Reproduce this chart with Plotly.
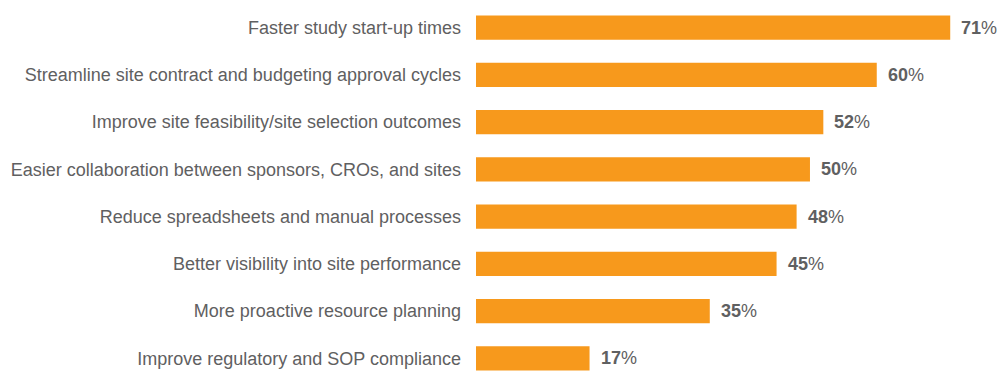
import plotly.graph_objects as go

categories = [
    "Faster study start-up times",
    "Streamline site contract and budgeting approval cycles",
    "Improve site feasibility/site selection outcomes",
    "Easier collaboration between sponsors, CROs, and sites",
    "Reduce spreadsheets and manual processes",
    "Better visibility into site performance",
    "More proactive resource planning",
    "Improve regulatory and SOP compliance",
]
values = [71, 60, 52, 50, 48, 45, 35, 17]

BAR = "#F7991C"
TXT = "#5f6061"
FONT = "Liberation Sans, Arial, sans-serif"

fig = go.Figure(go.Bar(
    x=values, y=categories, orientation="h",
    marker=dict(color=BAR, line=dict(width=0)),
    width=0.51, hoverinfo="skip",
))

for c, v in zip(categories, values):
    fig.add_annotation(
        x=v, y=c, xref="x", yref="y", xanchor="left", yanchor="middle",
        xshift=9, showarrow=False,
        text=f"<b>{v}</b>%", font=dict(family=FONT, size=18, color=TXT),
    )

fig.update_layout(
    width=1003, height=385,
    margin=dict(l=476, r=0, t=4, b=3),
    paper_bgcolor="white", plot_bgcolor="white",
    showlegend=False,
    font=dict(family=FONT, color=TXT),
    xaxis=dict(range=[0, 78.9], visible=False, fixedrange=True),
    yaxis=dict(autorange="reversed", showgrid=False, zeroline=False, showline=False,
               ticks="", ticklabelstandoff=14, fixedrange=True,
               tickfont=dict(family=FONT, size=18, color=TXT)),
)

fig.write_html("out.html", config={"displayModeBar": False},
               post_script="document.body.style.margin='0';")
